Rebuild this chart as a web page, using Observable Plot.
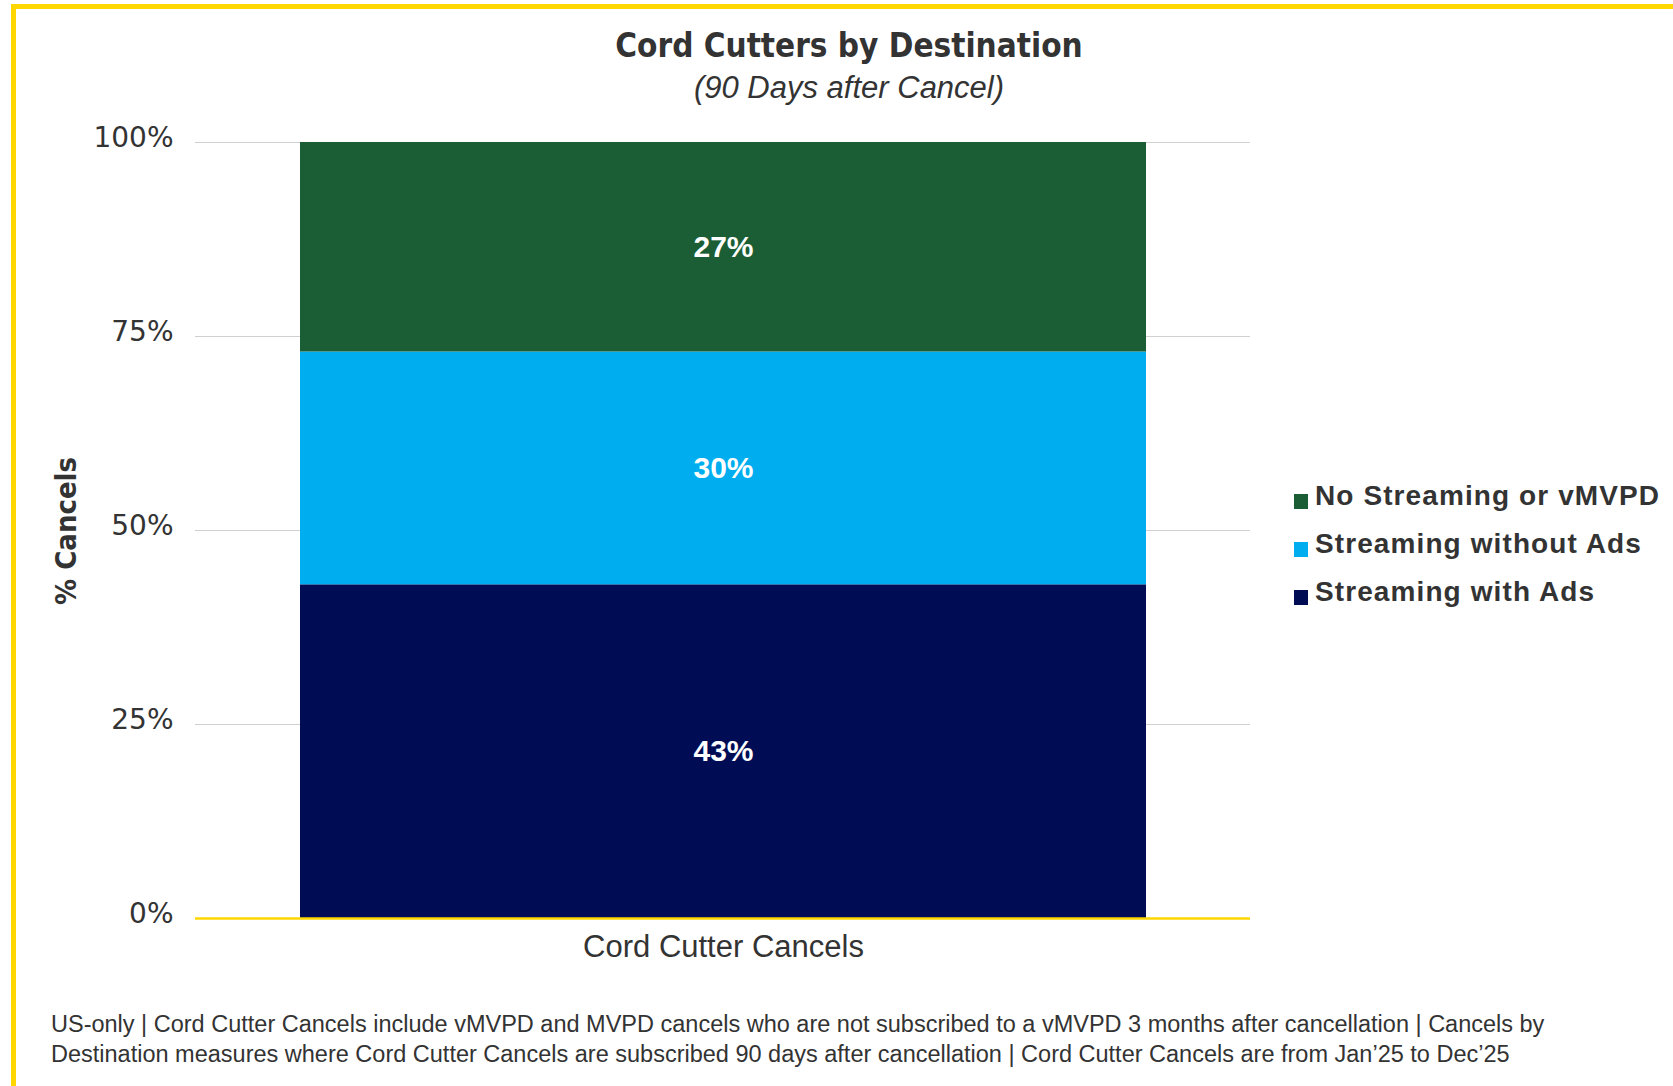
<!DOCTYPE html>
<html>
<head>
<meta charset="utf-8">
<script src="https://cdn.jsdelivr.net/npm/d3@7"></script>
<script src="https://cdn.jsdelivr.net/npm/@observablehq/plot@0.6"></script>
<style>
  html, body { margin: 0; padding: 0; background: #fff; }
  body { width: 1673px; height: 1086px; position: relative; overflow: hidden; font-family: "Liberation Sans", Arial, sans-serif; color: #333; }
  .border-top { position: absolute; left: 11px; top: 4px; width: 1662px; height: 5px; background: #FFD700; }
  .border-left { position: absolute; left: 11px; top: 4px; width: 5px; height: 1082px; background: #FFD700; }
  .title { position: absolute; left: 849px; top: 26px; transform: translateX(-50%); white-space: nowrap;
           font-family: "Liberation Sans Narrow", "DejaVu Sans Condensed", Arial, sans-serif; font-stretch: condensed;
           font-weight: bold; font-size: 33px; color: #333; }
  .subtitle { position: absolute; left: 849px; top: 70px; transform: translateX(-50%); white-space: nowrap;
           font-style: italic; font-size: 31px; color: #333; }
  .ytitle { position: absolute; left: 66px; top: 531px; transform: translate(-50%, -50%) rotate(-90deg); white-space: nowrap;
           font-family: "Liberation Sans Narrow", "DejaVu Sans Condensed", Arial, sans-serif; font-stretch: condensed;
           font-weight: bold; font-size: 29px; color: #333; }
  #chart { position: absolute; left: 0; top: 100px; }
  .legend { position: absolute; left: 1294px; top: 480px; }
  .legend .row { position: relative; height: 48px; }
  .legend .sw { position: absolute; left: 0; top: 14px; width: 14px; height: 15px; }
  .legend .lb { position: absolute; left: 21px; top: 0; white-space: nowrap; font-weight: bold; font-size: 28px; letter-spacing: 1.1px; color: #333; }
  .foot { position: absolute; left: 51px; top: 1009px; font-size: 23.5px; line-height: 30px; color: #333; white-space: nowrap; }
</style>
</head>
<body>
<div class="border-top"></div>
<div class="border-left"></div>
<div class="title" id="title"></div>
<div class="subtitle" id="subtitle"></div>
<div class="ytitle" id="ytitle"></div>
<div id="chart"></div>
<div class="legend" id="legend"></div>
<div class="foot" id="foot"></div>
<script>
// ---- data ----
const categories = ["Cord Cutter Cancels"];
const seriesNames = ["Streaming with Ads", "Streaming without Ads", "No Streaming or vMVPD"]; // bottom to top
const seriesValues = [43, 30, 27];
const seriesColors = ["#000D55", "#00AEEF", "#1B5E35"];
const yTicks = [0, 25, 50, 75, 100];
const legendOrder = ["No Streaming or vMVPD", "Streaming without Ads", "Streaming with Ads"];
const titleText = "Cord Cutters by Destination";
const subtitleText = "(90 Days after Cancel)";
const yTitleText = "% Cancels";
const footLines = [
  "US-only | Cord Cutter Cancels include vMVPD and MVPD cancels who are not subscribed to a vMVPD 3 months after cancellation | Cancels by",
  "Destination measures where Cord Cutter Cancels are subscribed 90 days after cancellation | Cord Cutter Cancels are from Jan\u201925 to Dec\u201925"
];

const table = seriesNames.map((s, i) => ({category: categories[0], series: s, value: seriesValues[i]}));

document.getElementById("title").textContent = titleText;
document.getElementById("subtitle").textContent = subtitleText;
document.getElementById("ytitle").textContent = yTitleText;
const foot = document.getElementById("foot");
footLines.forEach(l => { const d = document.createElement("div"); d.textContent = l; foot.appendChild(d); });

const legend = document.getElementById("legend");
legendOrder.forEach(s => {
  const row = document.createElement("div"); row.className = "row";
  const sw = document.createElement("div"); sw.className = "sw"; sw.style.background = seriesColors[seriesNames.indexOf(s)];
  const lb = document.createElement("div"); lb.className = "lb"; lb.textContent = s;
  row.appendChild(sw); row.appendChild(lb); legend.appendChild(row);
});

const chart = Plot.plot({
  width: 1673,
  height: 870,
  marginTop: 42,
  marginBottom: 52,
  marginLeft: 195,
  marginRight: 423,
  style: {background: "transparent", color: "#333", overflow: "visible"},
  x: {domain: categories, padding: 0.11, label: null},
  y: {domain: [0, 100], label: null},
  color: {domain: seriesNames, range: seriesColors},
  marks: [
    Plot.ruleY(yTicks.filter(d => d > 0), {stroke: "#d0d0d0", strokeWidth: 1}),
    Plot.barY(table, Plot.stackY({x: "category", y: "value", fill: "series", z: "series", order: seriesNames})),
    Plot.ruleY([0], {stroke: "#FFD700", strokeWidth: 2.5}),
    Plot.text(table, Plot.stackY({x: "category", y: "value", z: "series", order: seriesNames,
      text: d => d.value + "%", fill: "white", fontWeight: "bold", fontSize: 30, fontFamily: "Liberation Sans, Arial, sans-serif"})),
    Plot.axisY({ticks: yTicks, tickFormat: d => d + "%", tickSize: 0, tickPadding: 22, fontSize: 28,
      fontFamily: "DejaVu Sans, sans-serif", dy: -4, fill: "#333", label: null}),
    Plot.axisX({tickSize: 0, tickPadding: 16, fontSize: 31, fontFamily: "Liberation Sans, Arial, sans-serif", fill: "#333", label: null})
  ]
});
document.getElementById("chart").appendChild(chart);
</script>
</body>
</html>
